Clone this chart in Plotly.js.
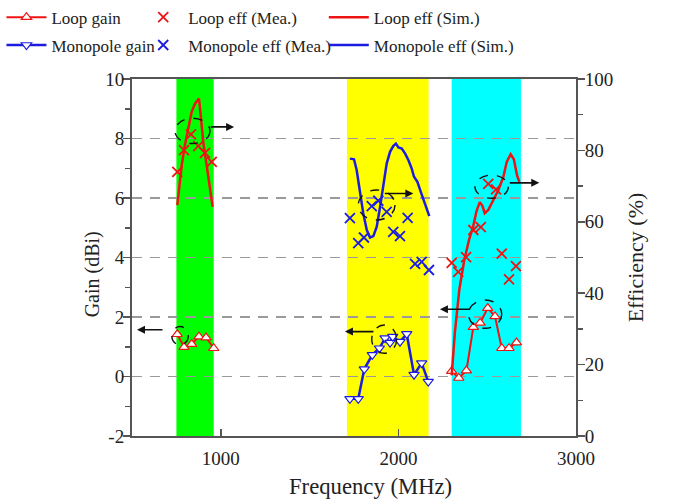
<!DOCTYPE html>
<html><head><meta charset="utf-8">
<script src="https://cdn.plot.ly/plotly-3.0.1.min.js"></script>
<style>html,body{margin:0;padding:0;background:#fff}#chart{width:684px;height:499px}</style>
</head><body><div id="chart"></div>
<script>
// ---- data ----
const bandStart = [750, 1710, 2300];
const bandEnd   = [960, 2170, 2690];
const bandColor = ['#00ff00', '#ffff00', '#00ffff'];

const loopGainFreqLow  = [755, 793, 836, 877, 917, 960];
const loopGainLow      = [1.42, 0.99, 1.09, 1.34, 1.31, 0.95];
const loopGainFreqHigh = [2300, 2340, 2383, 2422, 2460, 2503, 2544, 2582, 2623, 2665];
const loopGainHigh     = [0.18, -0.05, 0.2, 1.66, 1.8, 2.3, 2.02, 0.95, 0.95, 1.14];

const loopMeaFreqLow  = [755, 793, 832, 873, 911, 949];
const loopMeaLow      = [74.0, 80.1, 84.5, 81.2, 79.3, 76.8];
const loopMeaFreqHigh = [2300, 2337, 2381, 2422, 2464, 2506, 2550, 2582, 2623, 2662];
const loopMeaHigh     = [48.5, 46.0, 50.1, 57.7, 58.5, 70.6, 69.1, 51.1, 43.9, 47.6];

const loopSimFreqLow  = [755, 766, 780, 798, 817, 836, 855, 877, 887, 901, 920, 935, 954];
const loopSimLow      = [64.7, 70.3, 75.9, 81.5, 86.1, 90.8, 93.1, 94.5, 89.8, 82.4, 75.9, 70.3, 64.2];
const loopSimFreqHigh = [2300, 2318, 2343, 2370, 2398, 2420, 2440, 2458, 2473, 2486, 2506, 2534, 2563, 2591, 2610, 2632, 2650, 2668, 2681];
const loopSimHigh     = [17, 29, 41, 49, 55, 58.5, 63, 65.5, 64.5, 62.4, 63.3, 66.1, 68.9, 72.6, 76.8, 78.9, 77.5, 73, 71.2];

const monoGainFreq = [1727, 1774, 1808, 1853, 1893, 1925, 1953, 1968, 2009, 2047, 2088, 2131, 2168];
const monoGain     = [-0.75, -0.75, 0.25, 0.73, 0.95, 1.29, 1.14, 1.34, 1.17, 1.43, 0.06, 0.45, -0.17];

const monoMeaFreq = [1727, 1774, 1806, 1850, 1887, 1934, 1971, 2009, 2052, 2094, 2131, 2172];
const monoMea     = [61.0, 54.0, 55.6, 64.4, 65.9, 62.8, 57.2, 56.0, 61.1, 48.2, 48.8, 46.5];

const monoSimFreq = [1727, 1750, 1765, 1784, 1802, 1822, 1840, 1859, 1878, 1897, 1915, 1934, 1953, 1971, 1986, 2000, 2019, 2038, 2056, 2075, 2088, 2107, 2126, 2150, 2174];
const monoSim     = [77.7, 77.5, 74.5, 67.9, 62.4, 57.7, 55.6, 56.0, 58.6, 64.2, 70.7, 76.3, 79.6, 81.2, 81.9, 80.8, 80.5, 79.1, 77.3, 74.9, 72.6, 71.2, 68.4, 65.2, 61.6];

// annotation ellipses (freq range, gain range) and arrows (tail freq, head freq, gain)
const ellipseF0 = [742, 724, 1774, 1850, 2431, 2394];
const ellipseF1 = [939, 817, 1981, 1990, 2619, 2582];
const ellipseG0 = [7.83, 1.06, 5.26, 0.78, 5.99, 1.62];
const ellipseG1 = [8.68, 1.68, 6.27, 1.73, 6.77, 2.57];
const arrowTail = [935, 680, 1915, 1868, 2619, 2413];
const arrowHead = [1075, 528, 2084, 1699, 2793, 2234];
const arrowGain = [8.39, 1.57, 6.15, 1.51, 6.51, 2.26];

// tick labels and titles
const gainTickVals = [-2, 0, 2, 4, 6, 8, 10];
const gainTickText = ['-2', '0', '2', '4', '6', '8', '10'];
const effTickVals  = [0, 20, 40, 60, 80, 100];
const effTickText  = ['0', '20', '40', '60', '80', '100'];
const freqTickVals = [1000, 2000, 3000];
const freqTickText = ['1000', '2000', '3000'];
const xTitle = 'Frequency (MHz)';
const yTitle = 'Gain (dBi)';
const y2Title = 'Efficiency (%)';

const legendNames = ['Loop gain', 'Loop eff (Mea.)', 'Loop eff (Sim.)', 'Monopole gain', 'Monopole eff (Mea.)', 'Monopole eff (Sim.)'];

// ---- build ----
const RED = '#ee1414', BLUE = '#1c1ce0';
const join = (a, b) => a.concat([null], b);

const traces = [
  {x: join(loopGainFreqLow, loopGainFreqHigh), y: join(loopGainLow, loopGainHigh), name: legendNames[0], legend: 'legend',
   mode: 'lines+markers', line: {color: RED, width: 2}, marker: {symbol: 'triangle-up', size: 9, color: '#fff', line: {color: RED, width: 1.2}}, yaxis: 'y'},
  {x: join(loopMeaFreqLow, loopMeaFreqHigh), y: join(loopMeaLow, loopMeaHigh), name: legendNames[1], legend: 'legend3',
   mode: 'markers', marker: {symbol: 'x-thin-open', size: 10, color: RED, line: {color: RED, width: 1.8}}, yaxis: 'y2'},
  {x: join(loopSimFreqLow, loopSimFreqHigh), y: join(loopSimLow, loopSimHigh), name: legendNames[2], legend: 'legend5',
   mode: 'lines', line: {color: RED, width: 2.5}, yaxis: 'y2'},
  {x: monoGainFreq, y: monoGain, name: legendNames[3], legend: 'legend2',
   mode: 'lines+markers', line: {color: BLUE, width: 2.5}, marker: {symbol: 'triangle-down', size: 9, color: '#fff', line: {color: BLUE, width: 1.2}}, yaxis: 'y'},
  {x: monoMeaFreq, y: monoMea, name: legendNames[4], legend: 'legend4',
   mode: 'markers', marker: {symbol: 'x-thin-open', size: 10, color: BLUE, line: {color: BLUE, width: 1.8}}, yaxis: 'y2'},
  {x: monoSimFreq, y: monoSim, name: legendNames[5], legend: 'legend6',
   mode: 'lines', line: {color: BLUE, width: 2.5}, yaxis: 'y2'}
];

const FONT = 'Liberation Serif, Times New Roman, serif';

const shapes = [];
for (let i = 0; i < bandStart.length; i++) {
  shapes.push({type: 'rect', xref: 'x', yref: 'paper', x0: bandStart[i], x1: bandEnd[i], y0: 0, y1: 1,
    fillcolor: bandColor[i], line: {width: 0}, layer: 'below'});
}
for (let i = 0; i < ellipseF0.length; i++) {
  shapes.push({type: 'circle', xref: 'x', yref: 'y', x0: ellipseF0[i], x1: ellipseF1[i], y0: ellipseG0[i], y1: ellipseG1[i],
    line: {color: '#111', width: 1.4, dash: 'dash'}, layer: 'above'});
}
const annotations = [];
for (let i = 0; i < arrowTail.length; i++) {
  annotations.push({x: arrowHead[i], y: arrowGain[i], ax: arrowTail[i], ay: arrowGain[i], xref: 'x', yref: 'y', axref: 'x', ayref: 'y',
    text: '', showarrow: true, arrowhead: 2, arrowsize: 1, arrowwidth: 1.6, arrowcolor: '#111'});
}
// axis titles placed as in the reference (offset from the axis centre)
annotations.push({text: xTitle, xref: 'paper', yref: 'paper', x: 0.538, y: -0.142, xanchor: 'center', yanchor: 'middle',
  showarrow: false, font: {family: FONT, size: 22.7, color: '#222'}});
annotations.push({text: yTitle, xref: 'paper', yref: 'paper', x: -0.0901, y: 0.4528, xanchor: 'center', yanchor: 'middle',
  textangle: -90, showarrow: false, font: {family: FONT, size: 20, color: '#222'}});

const legBase = {orientation: 'v', bgcolor: 'rgba(0,0,0,0)', borderwidth: 0, font: {family: FONT, size: 17, color: '#222'},
  xanchor: 'left', yanchor: 'middle', itemwidth: 40, itemclick: false};
const colX = [-0.294, 0.014, 0.432];
const rowY = [1.172, 1.094];

const axisCommon = {showline: true, linecolor: '#555', linewidth: 2, tickcolor: '#555', tickwidth: 1.5,
  tickfont: {family: FONT, size: 19, color: '#222'}, zeroline: false};

const layout = {
  width: 684, height: 499,
  margin: {l: 132, r: 108, t: 79, b: 63, autoexpand: false},
  showlegend: true,
  paper_bgcolor: '#fff', plot_bgcolor: '#fff',
  font: {family: FONT, color: '#222'},
  shapes: shapes, annotations: annotations,
  xaxis: Object.assign({}, axisCommon, {range: [500, 3000], tickmode: 'array', tickvals: freqTickVals, ticktext: freqTickText,
    ticks: 'inside', ticklen: 7, ticklabelstandoff: 4, mirror: true, showgrid: false}),
  yaxis: Object.assign({}, axisCommon, {range: [-2, 10], tickmode: 'array', tickvals: gainTickVals, ticktext: gainTickText,
    ticks: 'outside', ticklen: 7, ticklabelstandoff: -5,
    minor: {dtick: 1, ticks: 'outside', ticklen: 5, tickcolor: '#555', showgrid: false},
    showgrid: true, gridcolor: '#9a9a9a', gridwidth: 1.5, griddash: '10px,8px'}),
  yaxis2: Object.assign({}, axisCommon, {range: [0, 100], tickmode: 'array', tickvals: effTickVals, ticktext: effTickText,
    ticks: 'outside', ticklen: 7, ticklabelstandoff: -4, overlaying: 'y', side: 'right',
    minor: {dtick: 10, ticks: 'outside', ticklen: 5, tickcolor: '#555', showgrid: false}, showgrid: false,
    title: {text: y2Title, font: {family: FONT, size: 22, color: '#222'}, standoff: 15}}),
  legend:  Object.assign({}, legBase, {x: colX[0], y: rowY[0]}),
  legend2: Object.assign({}, legBase, {x: colX[0], y: rowY[1]}),
  legend3: Object.assign({}, legBase, {x: colX[1], y: rowY[0]}),
  legend4: Object.assign({}, legBase, {x: colX[1], y: rowY[1]}),
  legend5: Object.assign({}, legBase, {x: colX[2], y: rowY[0]}),
  legend6: Object.assign({}, legBase, {x: colX[2], y: rowY[1]})
};

Plotly.newPlot('chart', traces, layout, {displayModeBar: false, staticPlot: true});
</script></body></html>
